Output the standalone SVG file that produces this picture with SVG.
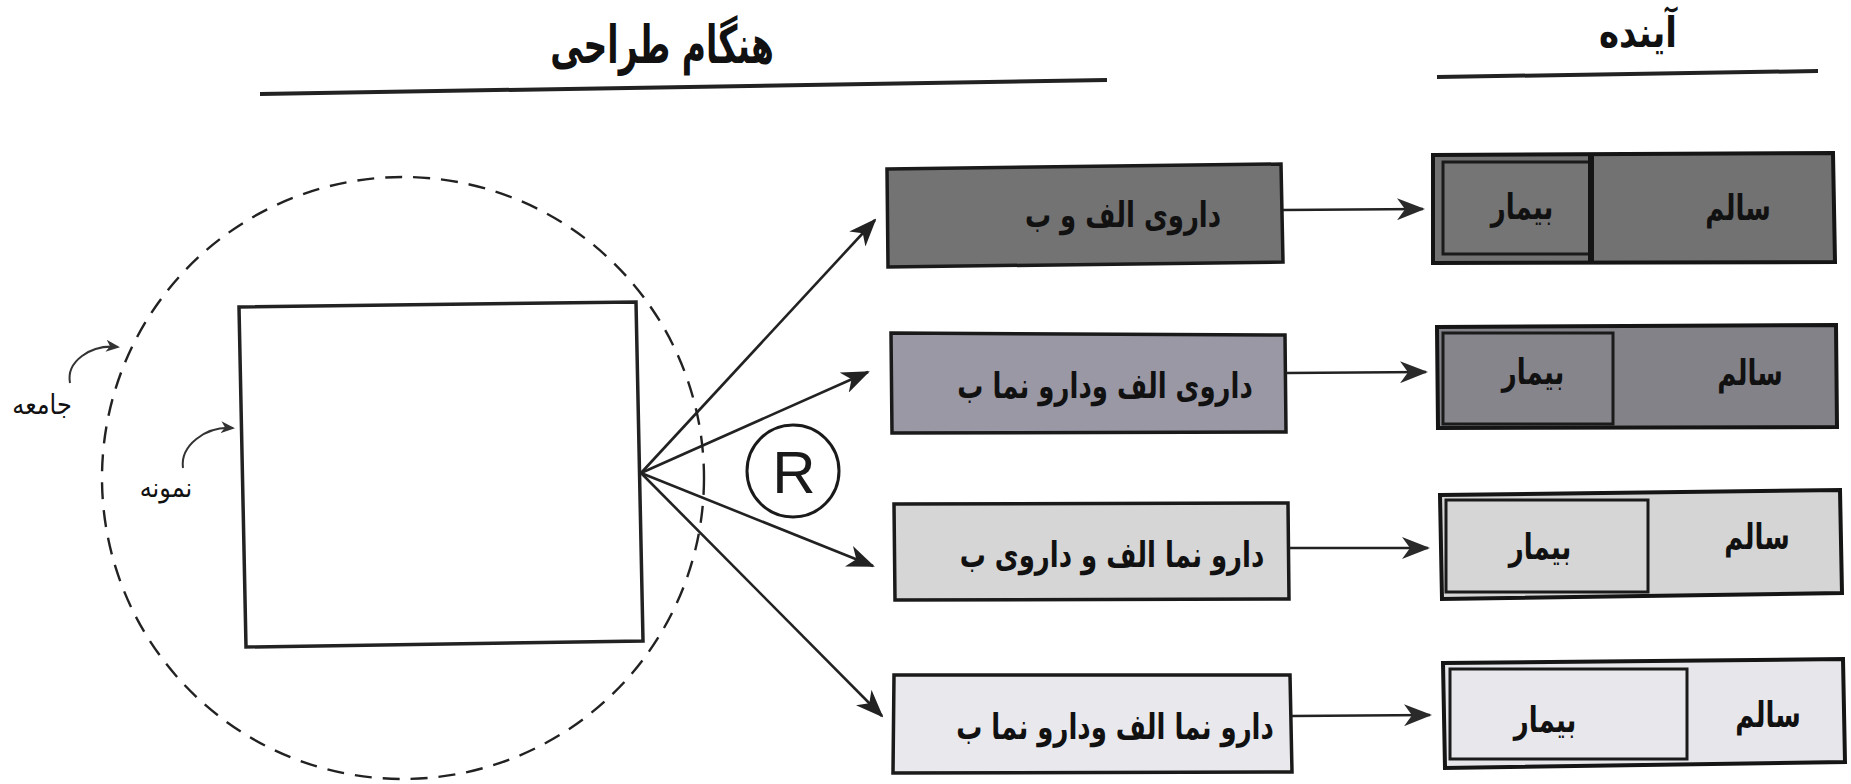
<svg xmlns="http://www.w3.org/2000/svg" width="1851" height="784" viewBox="0 0 1851 784">
  <style>
    .ar { font-family: "DejaVu Sans", sans-serif; fill: #111; text-anchor: middle; }
    .title { font-size: 34px; font-weight: bold; }
    .lbl { font-size: 24px; }
    .box-txt { font-size: 26px; font-weight: bold; }
    .cell-txt { font-size: 26px; font-weight: bold; }
    .rule { stroke: #222; stroke-width: 4; fill: none; }
    .box { stroke: #1a1a1a; stroke-width: 3.5; }
    .outer { stroke: #151515; stroke-width: 4; }
    .cell { stroke: #1a1a1a; stroke-width: 3; }
    .fan { stroke: #222; stroke-width: 2.6; fill: none; marker-end: url(#head); }
    .link { stroke: #222; stroke-width: 2.6; fill: none; marker-end: url(#head2); }
    .pointer { stroke: #333; stroke-width: 2; fill: none; marker-end: url(#head3); }
  </style>
  <defs>
    <marker id="head" viewBox="0 0 28 22" refX="26" refY="11" markerWidth="28" markerHeight="22" markerUnits="userSpaceOnUse" orient="auto">
      <path d="M0,0 L28,11 L0,22 L8,11 Z" fill="#222"/>
    </marker>
    <marker id="head2" viewBox="0 0 28 22" refX="26" refY="11" markerWidth="28" markerHeight="22" markerUnits="userSpaceOnUse" orient="auto">
      <path d="M0,0 L28,11 L0,22 L8,11 Z" fill="#2a2a2a"/>
    </marker>
    <marker id="head3" viewBox="0 0 14 12" refX="12" refY="6" markerWidth="14" markerHeight="12" markerUnits="userSpaceOnUse" orient="auto">
      <path d="M0,0 L14,6 L0,12 L4,6 Z" fill="#333"/>
    </marker>
  </defs>

  <!-- column headings -->
  <g id="heading-design">
    <text class="ar title" transform="translate(662,63) scale(0.97,1.55)">هنگام طراحی</text>
    <path class="rule" d="M260,94 L1107,80"/>
  </g>
  <g id="heading-future">
    <text class="ar title" transform="translate(1638,47) scale(1,1.25)">آینده</text>
    <path class="rule" d="M1437,77 L1818,71"/>
  </g>

  <!-- population (dashed circle) and sample (square) -->
  <g id="population">
    <circle cx="403" cy="478" r="301" fill="none" stroke="#222" stroke-width="2.4" stroke-dasharray="17 11"/>
    <text class="ar lbl" transform="translate(42,414) scale(1,1.15)">جامعه</text>
    <path class="pointer" d="M70,383 C66,362 90,344 118,347"/>
  </g>
  <g id="sample">
    <polygon points="239,307 636,302 643,641 246,647" fill="#fff" stroke="#222" stroke-width="3.5"/>
    <text class="ar lbl" transform="translate(166,497) scale(1,1.15)">نمونه</text>
    <path class="pointer" d="M183,468 C180,446 205,426 233,428"/>
  </g>

  <!-- randomisation symbol -->
  <g id="randomise">
    <circle cx="793" cy="471" r="46" fill="#fff" stroke="#1a1a1a" stroke-width="3"/>
    <text x="794" y="493" text-anchor="middle" font-family="Liberation Sans, Arial, sans-serif" font-size="60" fill="#1a1a1a">R</text>
  </g>

  <!-- treatment arms -->
  <g id="arm-1">
    <polygon class="box" points="887,169 1281,164 1283,262 888,267" fill="#737373"/>
    <text class="ar box-txt" transform="translate(1123,227) scale(1,1.35)">داروی الف و ب</text>
  </g>
  <g id="arm-2">
    <polygon class="box" points="891,333 1285,335 1286,432 892,433" fill="#9a98a4"/>
    <text class="ar box-txt" transform="translate(1105,398) scale(1,1.35)">داروی الف ودارو نما ب</text>
  </g>
  <g id="arm-3">
    <polygon class="box" points="894,504 1288,503 1289,599 895,600" fill="#d6d6d6"/>
    <text class="ar box-txt" transform="translate(1112,567) scale(1,1.35)">دارو نما الف و داروی ب</text>
  </g>
  <g id="arm-4">
    <polygon class="box" points="894,675 1290,675 1292,772 893,773" fill="#e8e8ed"/>
    <text class="ar box-txt" transform="translate(1115,739) scale(1,1.35)">دارو نما الف ودارو نما ب</text>
  </g>

  <!-- outcomes: sick / healthy -->
  <g id="outcome-1">
    <polygon class="outer" points="1433,155 1833,153 1835,262 1433,263" fill="#727272"/>
    <rect class="cell" x="1443" y="162" width="147" height="92" fill="#757575"/>
    <line x1="1591" y1="154" x2="1591" y2="262" stroke="#151515" stroke-width="6"/>
    <text class="ar cell-txt" transform="translate(1522,219) scale(1,1.35)">بیمار</text>
    <text class="ar cell-txt" transform="translate(1738,220) scale(1,1.35)">سالم</text>
  </g>
  <g id="outcome-2">
    <polygon class="outer" points="1437,327 1836,325 1837,427 1438,428" fill="#838288"/>
    <rect class="cell" x="1443" y="333" width="170" height="91" fill="#86858b" stroke="#3a3a3a"/>
    <text class="ar cell-txt" transform="translate(1533,384) scale(1,1.35)">بیمار</text>
    <text class="ar cell-txt" transform="translate(1750,385) scale(1,1.35)">سالم</text>
  </g>
  <g id="outcome-3">
    <polygon class="outer" points="1440,495 1840,490 1842,593 1442,599" fill="#d5d5d5"/>
    <rect class="cell" x="1446" y="500" width="202" height="92" fill="#d6d6d6"/>
    <text class="ar cell-txt" transform="translate(1540,559) scale(1,1.35)">بیمار</text>
    <text class="ar cell-txt" transform="translate(1757,549) scale(1,1.35)">سالم</text>
  </g>
  <g id="outcome-4">
    <polygon class="outer" points="1443,663 1843,659 1845,762 1445,768" fill="#e7e7eb"/>
    <rect class="cell" x="1450" y="669" width="237" height="90" fill="#e8e8ec"/>
    <text class="ar cell-txt" transform="translate(1545,732) scale(1,1.35)">بیمار</text>
    <text class="ar cell-txt" transform="translate(1768,727) scale(1,1.35)">سالم</text>
  </g>

  <!-- connectors -->
  <g id="connectors">
    <line class="fan" x1="641" y1="473" x2="875" y2="220"/>
    <line class="fan" x1="641" y1="473" x2="868" y2="372"/>
    <line class="fan" x1="641" y1="473" x2="873" y2="566"/>
    <line class="fan" x1="641" y1="473" x2="882" y2="716"/>
    <line class="link" x1="1283" y1="210" x2="1423" y2="209"/>
    <line class="link" x1="1286" y1="373" x2="1426" y2="372"/>
    <line class="link" x1="1289" y1="548" x2="1428" y2="548"/>
    <line class="link" x1="1292" y1="716" x2="1430" y2="715"/>
  </g>
</svg>
